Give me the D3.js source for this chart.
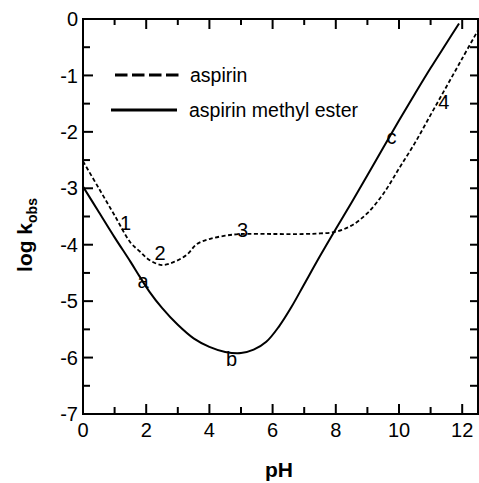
<!DOCTYPE html>
<html>
<head>
<meta charset="utf-8">
<script src="https://cdn.jsdelivr.net/npm/d3@7"></script>
<style>
  html, body { margin: 0; padding: 0; background: #fff; }
  svg { display: block; }
  text { font-family: "Liberation Sans", Arial, Helvetica, sans-serif; fill: #000; }
</style>
</head>
<body>
<svg id="chart" width="479" height="483"></svg>
<script>
// ---- data ----
const aspirinPH  = [0, 0.5, 1.0, 1.5, 1.8, 2.1, 2.5, 2.9, 3.3, 3.6, 4.0, 4.5, 5.0, 6.0, 7.0, 7.5, 8.0, 8.5, 9.0, 9.5, 10.0, 10.5, 11.0, 11.5, 12.0, 12.5];
const aspirinLogK = [-2.52, -3.0, -3.48, -3.96, -4.12, -4.27, -4.36, -4.3, -4.17, -3.99, -3.9, -3.84, -3.81, -3.81, -3.81, -3.8, -3.77, -3.66, -3.44, -3.1, -2.65, -2.2, -1.7, -1.2, -0.7, -0.2];
const esterPH   = [0, 0.5, 1.0, 1.5, 1.8, 2.1, 2.5, 3.0, 3.5, 4.0, 4.5, 5.0, 5.4, 5.8, 6.2, 6.6, 7.0, 7.5, 8.0, 8.5, 9.0, 9.5, 10.0, 10.5, 11.0, 11.5, 11.9];
const esterLogK = [-2.97, -3.42, -3.87, -4.3, -4.57, -4.83, -5.12, -5.42, -5.66, -5.81, -5.9, -5.92, -5.86, -5.72, -5.45, -5.1, -4.7, -4.2, -3.72, -3.25, -2.77, -2.28, -1.8, -1.33, -0.87, -0.43, -0.08];
const xMajorTicks = [0, 2, 4, 6, 8, 10, 12];
const xMinorTicks = [1, 3, 5, 7, 9, 11];
const yMajorTicks = [0, -1, -2, -3, -4, -5, -6, -7];
const yMinorTicks = [-0.5, -1.5, -2.5, -3.5, -4.5, -5.5, -6.5];
const seriesNames = ["aspirin", "aspirin methyl ester"];
const aspirinLabels = [
  {t: "1", ph: 1.35, v: -3.62},
  {t: "2", ph: 2.44, v: -4.15},
  {t: "3", ph: 5.05, v: -3.74},
  {t: "4", ph: 11.42, v: -1.47}
];
const esterLabels = [
  {t: "a", ph: 1.9, v: -4.64},
  {t: "b", ph: 4.7, v: -6.02},
  {t: "c", ph: 9.76, v: -2.09}
];

// ---- layout ----
const svg = d3.select("#chart");
const L = 83, T = 19, R = 478, B = 414;
const x = d3.scaleLinear().domain([0, 12.5]).range([L, R]);
const y = d3.scaleLinear().domain([-7, 0]).range([B, T]);
const FS = 20;

svg.append("defs").append("clipPath").attr("id", "clip")
  .append("rect").attr("x", L).attr("y", T).attr("width", R - L).attr("height", B - T);

// frame
svg.append("rect").attr("x", L).attr("y", T).attr("width", R - L).attr("height", B - T)
  .attr("fill", "none").attr("stroke", "#000").attr("stroke-width", 2);

// ticks (inward)
const xt = xMajorTicks.map(v => ({v, len: 10})).concat(xMinorTicks.map(v => ({v, len: 7})));
const ytk = yMajorTicks.map(v => ({v, len: 10})).concat(yMinorTicks.map(v => ({v, len: 7})));
const tg = svg.append("g").attr("stroke", "#000").attr("stroke-width", 2).attr("stroke-linecap", "butt");
tg.selectAll("line.xb").data(xt).enter().append("line").attr("class", "xb")
  .attr("x1", d => x(d.v)).attr("x2", d => x(d.v)).attr("y1", B).attr("y2", d => B - d.len);
tg.selectAll("line.xt").data(xt).enter().append("line").attr("class", "xt")
  .attr("x1", d => x(d.v)).attr("x2", d => x(d.v)).attr("y1", T).attr("y2", d => T + (d.len === 10 ? 10 : 6));
tg.selectAll("line.yl").data(ytk).enter().append("line").attr("class", "yl")
  .attr("x1", L).attr("x2", d => L + d.len).attr("y1", d => y(d.v)).attr("y2", d => y(d.v));
tg.selectAll("line.yr").data(ytk).enter().append("line").attr("class", "yr")
  .attr("x1", R).attr("x2", R - 8).attr("y1", d => y(d.v)).attr("y2", d => y(d.v));

// tick labels
svg.append("g").selectAll("text").data(xMajorTicks).join("text")
  .attr("x", d => x(d)).attr("y", 437).attr("text-anchor", "middle")
  .style("font-size", FS + "px").text(d => String(d));
svg.append("g").selectAll("text").data(yMajorTicks).join("text")
  .attr("x", 78).attr("y", d => y(d)).attr("dy", "0.36em").attr("text-anchor", "end")
  .style("font-size", FS + "px").text(d => String(d));

// curves
const line = d3.line().x(d => x(d[0])).y(d => y(d[1])).curve(d3.curveCatmullRom.alpha(0.5));
const plot = svg.append("g").attr("clip-path", "url(#clip)");
plot.append("path").datum(aspirinPH.map((p, i) => [p, aspirinLogK[i]]))
  .attr("d", line).attr("fill", "none").attr("stroke", "#000")
  .attr("stroke-width", 1.8).attr("stroke-dasharray", "4,2.5");
plot.append("path").datum(esterPH.map((p, i) => [p, esterLogK[i]]))
  .attr("d", line).attr("fill", "none").attr("stroke", "#000")
  .attr("stroke-width", 2);

// point labels
svg.append("g").selectAll("text").data(aspirinLabels.concat(esterLabels)).join("text")
  .attr("x", d => x(d.ph)).attr("y", d => y(d.v)).attr("dy", "0.36em")
  .attr("text-anchor", "middle")
  .style("font-size", FS + "px").text(d => d.t);

// legend
const lg = svg.append("g");
lg.append("line").attr("x1", 115).attr("x2", 180).attr("y1", 75).attr("y2", 75)
  .attr("stroke", "#000").attr("stroke-width", 3).attr("stroke-dasharray", "12.5,4.5");
lg.append("line").attr("x1", 111).attr("x2", 177).attr("y1", 110).attr("y2", 110)
  .attr("stroke", "#000").attr("stroke-width", 3);
lg.append("text").attr("x", 190).attr("y", 82).style("font-size", "19.5px").text(seriesNames[0]);
lg.append("text").attr("x", 189).attr("y", 117).style("font-size", "19.5px").text(seriesNames[1]);

// axis titles
svg.append("text").attr("x", 279).attr("y", 477).attr("text-anchor", "middle")
  .style("font-size", "21px").style("font-weight", "bold").text("pH");
const yt = svg.append("text").attr("transform", `translate(32,235) rotate(-90)`)
  .attr("text-anchor", "middle").style("font-size", "21px").style("font-weight", "bold");
yt.append("tspan").text("log k");
yt.append("tspan").attr("dy", 5).style("font-size", "14px").text("obs");
</script>
</body>
</html>
